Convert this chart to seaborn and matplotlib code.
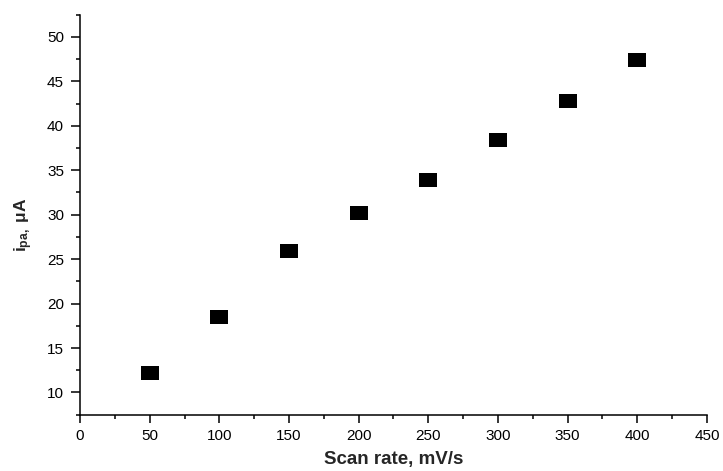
import matplotlib
matplotlib.use('Agg')

import matplotlib.pyplot as plt
from matplotlib.ticker import MultipleLocator
import seaborn as sns
import pandas as pd

# scan rate (mV/s) vs anodic peak current (uA)
scan_rate = [50, 100, 150, 200, 250, 300, 350, 400]
ipa = [12.2, 18.5, 25.9, 30.2, 33.9, 38.4, 42.8, 47.4]

sns.set_style('ticks')
plt.rcParams['font.family'] = ['Liberation Sans', 'DejaVu Sans']
plt.rcParams['mathtext.fontset'] = 'custom'
plt.rcParams['mathtext.rm'] = 'Liberation Sans:bold'
plt.rcParams['mathtext.it'] = 'Liberation Sans:bold'
plt.rcParams['mathtext.bf'] = 'Liberation Sans:bold'

df = pd.DataFrame({'scan': scan_rate, 'ipa': ipa})

fig = plt.figure(figsize=(7.23, 4.71), dpi=100)
ax = fig.add_axes([0.1107, 0.1195, 0.867, 0.8495])

box = [(-1, -0.75), (1, -0.75), (1, 0.75), (-1, 0.75)]
sns.scatterplot(ax=ax, data=df, x='scan', y='ipa', marker=box, s=170,
                color='black', edgecolor='black', linewidth=0)

ax.set_xlim(0, 450)
ax.set_ylim(7.5, 52.5)
ax.xaxis.set_major_locator(MultipleLocator(50))
ax.xaxis.set_minor_locator(MultipleLocator(25))
ax.yaxis.set_major_locator(MultipleLocator(5))
ax.yaxis.set_minor_locator(MultipleLocator(2.5))
ax.set_yticks([10, 15, 20, 25, 30, 35, 40, 45, 50])

for side in ['top', 'right']:
    ax.spines[side].set_visible(False)
for side in ['left', 'bottom']:
    ax.spines[side].set_linewidth(1.1)
    ax.spines[side].set_color('black')

ax.tick_params(which='major', direction='out', length=6, width=1.1,
               labelsize=11, colors='black')
ax.tick_params(axis='y', which='major', length=6.5, pad=5)
ax.tick_params(axis='x', which='major', pad=4)
ax.tick_params(which='minor', direction='out', length=3, width=1.1, colors='black')

ax.set_xlabel('Scan rate, mV/s', fontsize=13.5, fontweight='bold', labelpad=6)
ax.set_ylabel(r'i$_{pa,}$ μA', fontsize=12.5, fontweight='bold', labelpad=9)
ax.yaxis.label.set_y(0.474)

fig.savefig('out.png', dpi=100)
